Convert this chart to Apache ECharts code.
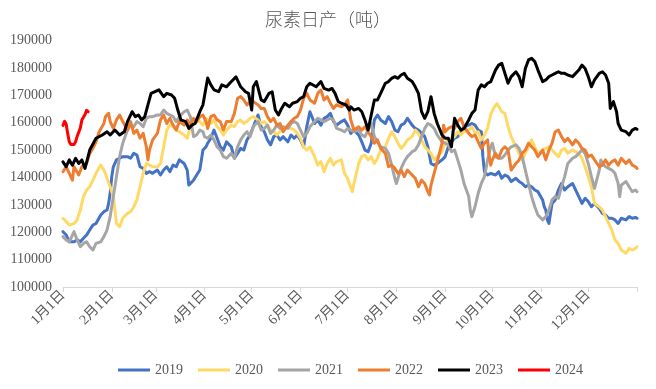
<!DOCTYPE html>
<html>
<head>
<meta charset="utf-8">
<script src="https://cdn.jsdelivr.net/npm/echarts@6/dist/echarts.min.js"></script>
<style>
html,body{margin:0;padding:0;background:#fff;}
#chart{width:656px;height:389px;}
</style>
</head>
<body>
<div id="chart"></div>
<script>
// Month start day-of-year (non-leap) and their tick labels
var monthStartDays = [0, 31, 59, 90, 120, 151, 181, 212, 243, 273, 304, 334];
var monthLabels = ['1月1日','2月1日','3月1日','4月1日','5月1日','6月1日','7月1日','8月1日','9月1日','10月1日','11月1日','12月1日'];
var yearEndDay = 365;
var seriesNames = ['2019','2020','2021','2022','2023','2024'];

// [day of year, daily output (tons)]
var data2019 = [[0,120200],[2,119000],[4,116500],[7,116500],[9,117200],[11,116500],[13,117800],[15,119000],[17,120800],[19,122600],[21,123200],[24,126300],[26,127500],[28,128100],[29,130500],[30,134200],[31,140300],[32,143900],[34,146400],[36,147000],[38,147600],[41,147600],[43,147000],[45,148800],[47,148200],[49,143900],[51,143300],[53,141500],[55,142100],[57,141500],[60,142700],[62,140900],[64,142700],[66,143900],[68,142100],[70,144500],[72,143900],[74,146400],[77,145100],[79,142700],[80,137200],[81,136600],[83,139000],[85,140900],[87,142700],[89,150000],[91,151200],
[92,152500],[94,154300],[96,157300],[98,154300],[100,151200],[102,150000],[104,153000],[107,151200],[109,147000],[111,148800],[113,150600],[115,150000],[117,153700],[119,155500],[121,158500],[124,162800],[126,158500],[128,156700],[130,153700],[132,151900],[134,154900],[136,155500],[138,153700],[140,154900],[143,153000],[145,155500],[147,154300],[149,155500],[151,153700],[153,151200],[155,158500],[157,164000],[160,159700],[162,161000],[164,159100],[166,161600],[168,162200],[170,163400],[172,160400],[174,159100],[177,160400],[179,161000],[181,159100],
[183,156100],[185,157300],[188,155500],[190,153000],[192,150000],[194,149400],[196,152500],[198,161000],[200,162800],[202,161000],[205,159700],[207,162200],[209,160400],[211,157300],[213,156700],[215,159100],[217,159700],[219,161600],[222,159100],[224,157900],[226,157300],[228,156100],[230,154900],[232,151200],[234,145100],[236,144500],[238,145100],[241,146400],[243,147600],[245,151200],[247,153000],[249,154300],[251,154900],[253,156700],[255,158500],[258,159100],[260,159700],[262,159100],[264,157300],[266,156700],[267,147600],[268,142100],[270,140900],[272,141500],
[273,141500],[275,140900],[277,142100],[279,139700],[281,140900],[283,140300],[285,138500],[288,139700],[290,138500],[292,137800],[294,136600],[296,137200],[298,136600],[300,135400],[302,134800],[305,131800],[306,129300],[307,128100],[308,124500],[309,123200],[310,126900],[311,130500],[313,131800],[315,135400],[317,137800],[319,135400],[321,136600],[324,137800],[326,135400],[328,133000],[330,130500],[332,132400],[334,131200],[336,129300],[338,130500],[341,128700],[343,126900],[345,126300],[347,125100],[349,125100],[351,124500],[353,123200],[355,125100],[358,124500],[360,125700],[362,125100],[364,125400],[365,125100]];

var data2020 = [[0,125100],[2,123900],[4,122600],[7,123200],[9,124500],[11,128100],[13,133000],[15,135400],[17,136600],[19,139000],[21,141500],[24,144500],[26,142700],[28,139700],[30,136600],[32,133000],[34,123200],[36,122000],[38,125100],[41,126900],[43,127500],[45,129300],[47,131800],[49,136600],[51,141500],[53,145100],[55,144500],[57,143900],[60,143900],[62,145100],[64,151200],[66,157300],[68,159100],[70,158500],[72,157300],[74,156700],[77,155500],[79,154300],[81,158500],[83,159700],[85,161000],[87,160400],[89,159100],[91,161600],
[92,161000],[94,159700],[96,161000],[98,158500],[100,157300],[102,155500],[104,157300],[107,159100],[109,158500],[111,160400],[113,161000],[115,159700],[117,160400],[119,161600],[121,162200],[124,161000],[126,159700],[128,160400],[130,159100],[132,157300],[134,156700],[136,155500],[138,156700],[140,157900],[143,158500],[145,157900],[147,157300],[149,156100],[151,154300],[153,151200],[155,150000],[157,151200],[160,147600],[162,144500],[164,145800],[166,142100],[168,145100],[170,147000],[172,144500],[174,145800],[177,146400],[179,141500],[181,139600],[182,137800],
[183,137800],[184,134800],[185,137800],[188,145100],[190,147600],[192,148200],[194,146400],[196,147600],[198,145100],[200,147000],[202,150000],[205,151200],[207,154300],[209,156700],[211,154900],[213,152500],[215,150600],[217,151900],[219,153700],[222,154900],[224,157300],[226,156100],[228,153700],[230,151200],[232,150000],[234,148800],[236,146400],[238,147600],[241,149400],[243,152500],[245,153700],[247,154300],[249,154900],[251,156700],[253,155500],[255,156700],[258,157300],[260,158500],[262,156100],[264,156700],[266,153700],[268,155500],[270,158000],[272,163000],
[274,165500],[276,167000],[277,166000],[279,164000],[281,163400],[282,161000],[283,158500],[285,154900],[288,151200],[290,148800],[292,146400],[294,148800],[296,151200],[298,153700],[300,151200],[302,148800],[305,150000],[307,150600],[309,151200],[311,150000],[313,148800],[315,147600],[317,150000],[319,150600],[321,148800],[324,150000],[326,149400],[328,148800],[330,147000],[332,143900],[334,140300],[336,136600],[338,130500],[341,129300],[343,128100],[345,125700],[347,123200],[349,120800],[351,117200],[353,115900],[355,113500],[358,112300],[360,114100],[362,113500],[364,114100],[365,114700]];

var data2021 = [[0,118400],[2,117200],[4,116500],[7,120200],[9,117200],[11,114700],[13,115900],[15,116500],[17,114700],[19,113500],[21,115900],[24,116500],[26,118400],[28,120800],[30,125700],[32,133000],[34,140300],[36,147600],[38,152500],[41,157300],[43,159100],[45,158500],[47,160400],[49,159700],[51,158500],[53,161600],[55,162200],[57,162200],[60,162800],[62,162800],[64,164600],[66,163400],[68,162800],[70,162200],[72,160400],[74,162200],[77,164000],[79,164600],[81,162200],[83,154900],[85,155500],[87,157300],[89,156700],
[90,154900],[92,154300],[94,155500],[96,153700],[98,151200],[100,150000],[102,147600],[104,147000],[107,148800],[109,147000],[111,151200],[113,153700],[115,155500],[117,156700],[119,154900],[121,158500],[124,160400],[126,157300],[128,157900],[130,159100],[132,156100],[134,157300],[136,159100],[138,157900],[140,158500],[143,157900],[145,159700],[147,160400],[149,159700],[151,157300],[153,154900],[155,156100],[157,158500],[160,160400],[162,161600],[164,161000],[166,160400],[168,161000],[170,161600],[172,161000],[174,157900],[177,157300],[179,156700],[181,157900],
[183,157300],[185,156700],[188,157300],[190,155500],[192,154900],[194,157300],[196,159700],[198,154900],[200,153000],[202,151200],[205,150600],[207,148800],[209,144500],[211,139700],[212,137800],[213,139700],[215,143300],[217,145800],[219,147600],[222,149400],[224,150000],[226,151900],[228,154900],[230,157900],[232,159700],[234,159100],[236,157900],[238,155500],[241,153000],[243,152500],[245,151900],[247,149400],[249,150000],[251,146400],[253,142700],[255,137800],[258,133000],[259,128100],[260,125700],[261,126300],[262,129300],[264,134200],[266,137800],[268,140300],[270,146400],[272,151200],
[273,152500],[275,147600],[277,147000],[279,147000],[281,148200],[283,150000],[285,151200],[288,151900],[290,150600],[292,147600],[294,142700],[296,137800],[298,133000],[300,129300],[302,126300],[305,124500],[307,125700],[309,128100],[311,131800],[313,133000],[315,132400],[317,136600],[319,140300],[321,145100],[324,147000],[326,147600],[328,148800],[330,150000],[332,148800],[334,145100],[336,140300],[338,136000],[341,142700],[342,146400],[343,145100],[345,143900],[347,143300],[349,142700],[351,141500],[353,137800],[354,133000],[355,137200],[358,138500],[360,136600],[362,134800],[364,135400],[365,134800]];

var data2022 = [[0,142100],[2,143900],[4,141500],[6,139000],[7,143900],[10,140900],[12,143900],[15,145100],[17,148800],[19,150600],[21,153000],[23,156700],[26,159700],[27,162200],[29,163400],[30,160400],[32,157900],[34,161000],[36,162800],[38,160400],[41,157300],[43,160400],[45,156100],[47,157300],[49,154300],[51,156100],[53,151200],[54,146400],[55,150000],[57,153700],[60,156100],[62,161000],[64,162800],[66,159700],[68,161600],[70,159100],[72,157300],[74,160400],[77,159100],[79,161000],[81,159100],[83,161600],[85,160400],[87,162200],[89,162800],[91,160400],
[92,157900],[94,162200],[96,162800],[98,161000],[100,160400],[102,157300],[104,160400],[107,160400],[109,163400],[111,168900],[113,169500],[115,168300],[117,166500],[119,167700],[121,167700],[124,166500],[126,165200],[128,165200],[130,162200],[132,160400],[134,161600],[136,159100],[138,159700],[140,156700],[143,159100],[145,160400],[147,161600],[149,162200],[151,164600],[153,168900],[155,170700],[157,168300],[160,167100],[162,170700],[164,171900],[166,168300],[168,169500],[170,167100],[172,165200],[174,166500],[177,165800],[179,166500],[181,168300],
[183,161000],[185,157300],[188,158500],[190,157300],[192,158500],[194,156700],[196,154900],[198,152500],[200,153700],[202,150600],[205,148800],[207,143900],[209,144500],[211,143300],[213,141500],[215,142700],[217,140300],[219,142700],[222,140900],[224,139700],[226,136600],[228,139000],[230,137800],[232,134800],[233,133600],[234,137200],[236,141500],[238,145800],[241,152500],[242,159100],[243,156700],[245,157900],[247,158500],[249,157900],[251,160400],[253,161600],[254,161000],[255,158500],[258,156100],[260,154900],[262,155500],[264,153000],[266,150600],[268,152500],[270,153700],[271,147600],[272,144500],
[273,146400],[275,148800],[277,147000],[279,150000],[281,151200],[283,150000],[285,142700],[288,145100],[290,146400],[292,148800],[294,150000],[296,152500],[298,151200],[300,150000],[302,147600],[305,150000],[307,146400],[309,150000],[311,152500],[313,156700],[315,157300],[317,154900],[319,153000],[321,154300],[324,151900],[326,153700],[328,152500],[330,150600],[332,150000],[334,147600],[336,148200],[338,146400],[341,143900],[343,144500],[345,146400],[347,144500],[349,145800],[351,146400],[353,144500],[355,147000],[358,145100],[360,146400],[362,144500],[364,143900],[365,143300]];

var data2023 = [[0,145700],[2,143900],[4,146400],[6,144500],[8,147000],[10,145100],[12,146400],[14,143300],[15,144000],[17,150000],[21,154300],[25,155500],[28,156700],[30,155500],[33,157300],[36,155500],[39,156700],[41,160400],[44,164000],[46,162200],[48,162800],[50,161000],[52,162200],[54,166500],[56,170700],[61,172000],[64,169500],[66,170700],[69,170100],[71,168900],[73,164600],[75,161000],[78,160400],[80,157900],[82,159100],[84,159700],[87,164000],[89,166500],[92,176300],
[94,173800],[96,172000],[99,171300],[101,173800],[104,173100],[106,174400],[110,176700],[113,173100],[116,171300],[118,170700],[120,164600],[121,173100],[123,175000],[126,168300],[128,167700],[131,170700],[133,171300],[135,164600],[137,162800],[139,165200],[141,167100],[144,165800],[146,167100],[149,167700],[151,168900],[153,169500],[155,173100],[157,174400],[161,173100],[164,175000],[166,172500],[169,171900],[171,172500],[173,170700],[175,167700],[177,167100],[180,166500],[182,164600],
[183,165800],[185,164600],[188,165200],[190,164000],[192,161000],[194,157300],[196,162800],[198,168300],[200,168300],[202,170700],[205,174400],[207,175000],[209,176200],[211,176800],[213,176200],[215,177400],[217,178000],[219,176200],[222,175000],[224,173100],[226,170700],[228,164000],[230,161600],[232,164000],[234,169500],[236,163400],[238,159700],[241,155500],[243,154300],[245,154300],[247,151200],[249,161600],[251,159100],[253,157300],[255,157900],[258,161000],[260,163400],[262,164600],[264,171900],[266,173800],[268,173100],[270,174400],[272,175000],
[275,179200],[277,181000],[279,181700],[281,178000],[283,174400],[285,176800],[288,178600],[290,176800],[292,173100],[294,179800],[296,182900],[298,183500],[300,182300],[302,179200],[305,175000],[307,175600],[309,176800],[311,177400],[313,178000],[315,178600],[317,178000],[319,178000],[321,177400],[324,176800],[326,178000],[328,179200],[330,181000],[332,179800],[334,176800],[336,173100],[338,175600],[341,178000],[343,178600],[345,177400],[347,174400],[348,165200],[350,167700],[352,164000],[353,159700],[355,157300],[358,156700],[360,155500],[362,157300],[364,157900],[365,157600]];

var data2024 = [[0,159000],[1,160500],[2,159500],[3,156000],[4,153000],[5,152000],[6,151800],[7,152000],[8,153000],[9,155000],[10,156500],[11,158000],[12,161000],[13,162000],[14,163000],[15,164500],[16,164000]];

var seriesData = [data2019, data2020, data2021, data2022, data2023, data2024];
var colors = ['#4472C4', '#FFD966', '#A5A5A5', '#ED7D31', '#000000', '#FF0000'];

var yMin = 100000, yMax = 190000, yStep = 10000;

// category axis: one slot per day, Jan 1 .. next Jan 1
var categories = [];
for (var d = 0; d <= yearEndDay; d++) {
  var k = monthStartDays.indexOf(d);
  categories.push(k >= 0 ? monthLabels[k] : '');
}

var chart = echarts.init(document.getElementById('chart'), null, {renderer: 'canvas'});
var serif = '"Liberation Serif", "Times New Roman", "Noto Sans CJK SC", serif';

var option = {
  animation: false,
  backgroundColor: '#ffffff',
  title: {
    text: '尿素日产（吨）',
    left: 'center',
    top: 5,
    textStyle: {
      fontFamily: '"Noto Sans CJK SC", sans-serif',
      fontWeight: 300,
      fontSize: 18,
      color: '#595959'
    }
  },
  grid: {left: 63, right: 19, top: 40.5, bottom: 102, containLabel: false},
  legend: {
    data: seriesNames,
    left: 113,
    top: 358,
    icon: 'rect',
    itemWidth: 32,
    itemHeight: 3,
    itemGap: 15,
    textStyle: {fontFamily: serif, fontSize: 14, color: '#595959'}
  },
  xAxis: {
    type: 'category',
    data: categories,
    boundaryGap: false,
    axisLine: {show: true, lineStyle: {color: '#D9D9D9', width: 1}},
    axisTick: {
      show: true,
      length: 5,
      lineStyle: {color: '#D9D9D9'},
      interval: function (i) { return monthStartDays.indexOf(i) >= 0 || i === yearEndDay; }
    },
    axisLabel: {
      rotate: 45,
      margin: 6,
      fontFamily: serif,
      fontSize: 14,
      color: '#595959',
      interval: function (i) { return monthStartDays.indexOf(i) >= 0; }
    },
    splitLine: {show: false}
  },
  yAxis: {
    type: 'value',
    min: yMin,
    max: yMax,
    interval: yStep,
    axisLine: {show: false},
    axisTick: {show: false},
    splitLine: {show: false},
    axisLabel: {
      margin: 11,
      fontFamily: serif,
      fontSize: 14,
      color: '#595959',
      formatter: function (v) { return String(v); }
    }
  },
  series: seriesNames.map(function (name, i) {
    return {
      name: name,
      type: 'line',
      data: seriesData[i],
      showSymbol: false,
      symbol: 'none',
      color: colors[i],
      lineStyle: {width: 3, color: colors[i], join: 'round', cap: 'round'},
      z: 2 + i
    };
  })
};
chart.setOption(option);
</script>
</body>
</html>
